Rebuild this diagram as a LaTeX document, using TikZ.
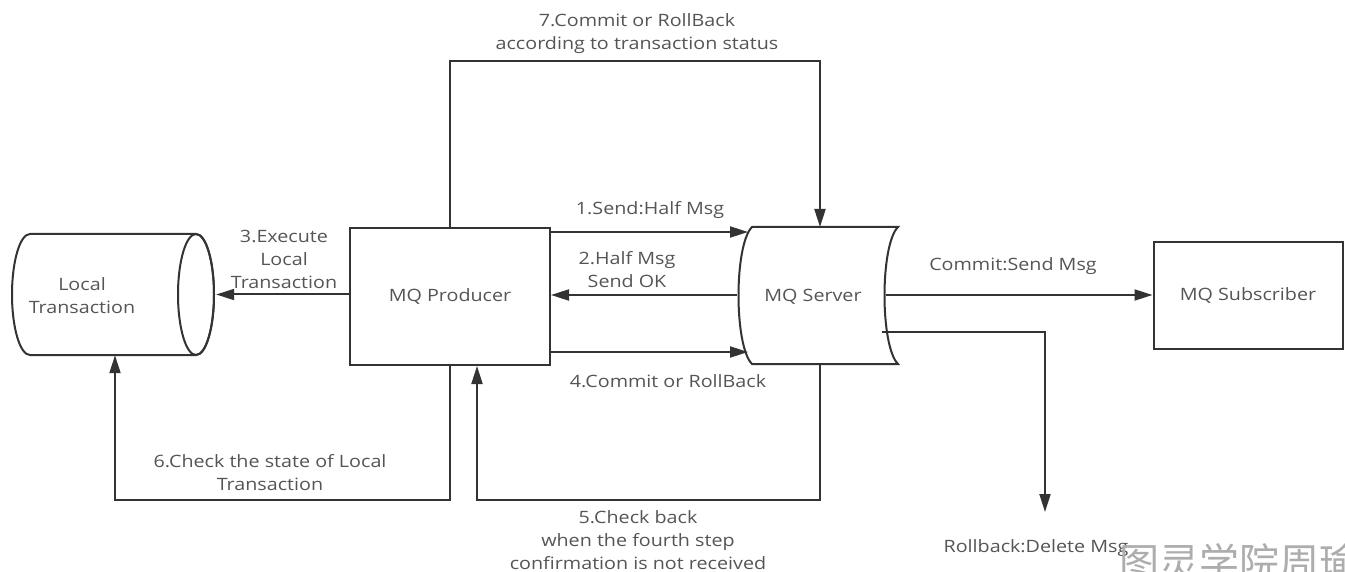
\documentclass[tikz,border=0pt]{standalone}
\usepackage{fontspec}
\setmainfont{Open Sans}[FakeStretch=1.16]
\newfontfamily\cjk{Noto Sans CJK SC}
\usetikzlibrary{arrows.meta,calc}
\definecolor{linec}{HTML}{333333}
\definecolor{txtc}{HTML}{555555}
\definecolor{markc}{HTML}{ADADAD}
\begin{document}
\begin{tikzpicture}[x=1pt,y=-1pt,
  line/.style={draw=linec, line width=2pt},
  arr/.style={line, -{Triangle[length=18pt,width=11pt]}},
  shapebox/.style={draw=linec, line width=2pt, fill=white, text=txtc,
    font=\fontsize{17}{20}\selectfont, inner sep=0pt},
  lbl/.style={text=txtc, font=\fontsize{17}{23}\selectfont, align=center, inner sep=0pt},
]
\useasboundingbox (0,0) rectangle (1345,572);
\fill[white] (0,0) rectangle (1345,572);

% ---- local transaction store (horizontal cylinder)
\node[inner sep=0pt, minimum width=205pt, minimum height=121pt] (lt) at (113.5,294.5) {};
\draw[line, fill=white] (30,234) -- (196,234)
  arc[start angle=-90, end angle=90, x radius=18, y radius=60.5]
  -- (30,355)
  arc[start angle=90, end angle=270, x radius=18, y radius=60.5] -- cycle;
\draw[line] (196,294.5) ellipse [x radius=18, y radius=60.5];
\node[lbl] (ltlabel) at (82,296) {Local\\Transaction};

% ---- producer
\node[shapebox, minimum width=200pt, minimum height=137pt] (prod) at (450,296.5) {MQ Producer};

% ---- server (stored-data outline)
\node[inner sep=0pt, minimum width=161pt, minimum height=137pt] (srv) at (817.5,295.5) {};
\draw[line, fill=white] (752,227) -- (898,227)
  .. controls (880,245) and (880,346) .. (898,364)
  -- (752,364)
  .. controls (734,346) and (734,245) .. (752,227) -- cycle;
\node[text=txtc, font=\fontsize{17}{20}\selectfont] (srvlabel) at (813,297) {MQ Server};
\coordinate (srvIn1) at (748,232);
\coordinate (srvIn4) at (748,352);
\coordinate (srvOut2) at (737,295);
\coordinate (srvOut) at (886,295);
\coordinate (srvRb) at (882,332);
\coordinate (srvTop) at (820,227);
\coordinate (srvBot) at (820,364);

% ---- subscriber
\node[shapebox, minimum width=189pt, minimum height=107pt] (sub) at (1248,295.5) {MQ Subscriber};

% ---- connectors
\draw[arr] (prod.east |- srvIn1) -- (srvIn1);
\draw[arr] (srvOut2) -- (prod.east |- srvOut2);
\draw[arr] (prod.east |- srvIn4) -- (srvIn4);
\draw[arr] (prod.west |- lt.east) -- (lt.east);
\draw[arr] (prod.north) -- (prod.north |- 0,61) -| (srvTop);
\draw[arr] (prod.south) -- (prod.south |- 0,500) -| ([xshift=1.5pt]lt.south);
\draw[arr] (srvBot) -- (srvBot |- 0,500) -| ([xshift=27pt]prod.south);
\draw[arr] (srvOut) -- (sub.west |- srvOut);
\coordinate (rbEnd) at (1045,512);
\draw[arr] (srvRb) -| (rbEnd);

% ---- labels
\node[lbl] (l1) at (650,210) {1.Send:Half Msg};
\node[lbl] (l2) at (627,270) {2.Half Msg\\Send OK};
\node[lbl] (l3) at (284,259) {3.Execute\\Local\\Transaction};
\node[lbl] (l4) at (668,381) {4.Commit or RollBack};
\node[lbl] (l5) at (638,540) {5.Check back\\when the fourth step\\confirmation is not received};
\node[lbl] (l6) at (270,473) {6.Check the state of Local\\Transaction};
\node[lbl] (l7) at (637,34) {7.Commit or RollBack\\according to transaction status};
\node[lbl] (lc) at (1013,266) {Commit:Send Msg};
\node[lbl] (lrb) at (1036,548) {Rollback:Delete Msg};

% ---- corner mark, running off the lower right edge
\node[anchor=north west, inner sep=0pt, text=markc, font=\cjk\fontsize{40}{42}\selectfont] (mark) at (1119,543) {图灵学院周瑜};
\end{tikzpicture}
\end{document}
